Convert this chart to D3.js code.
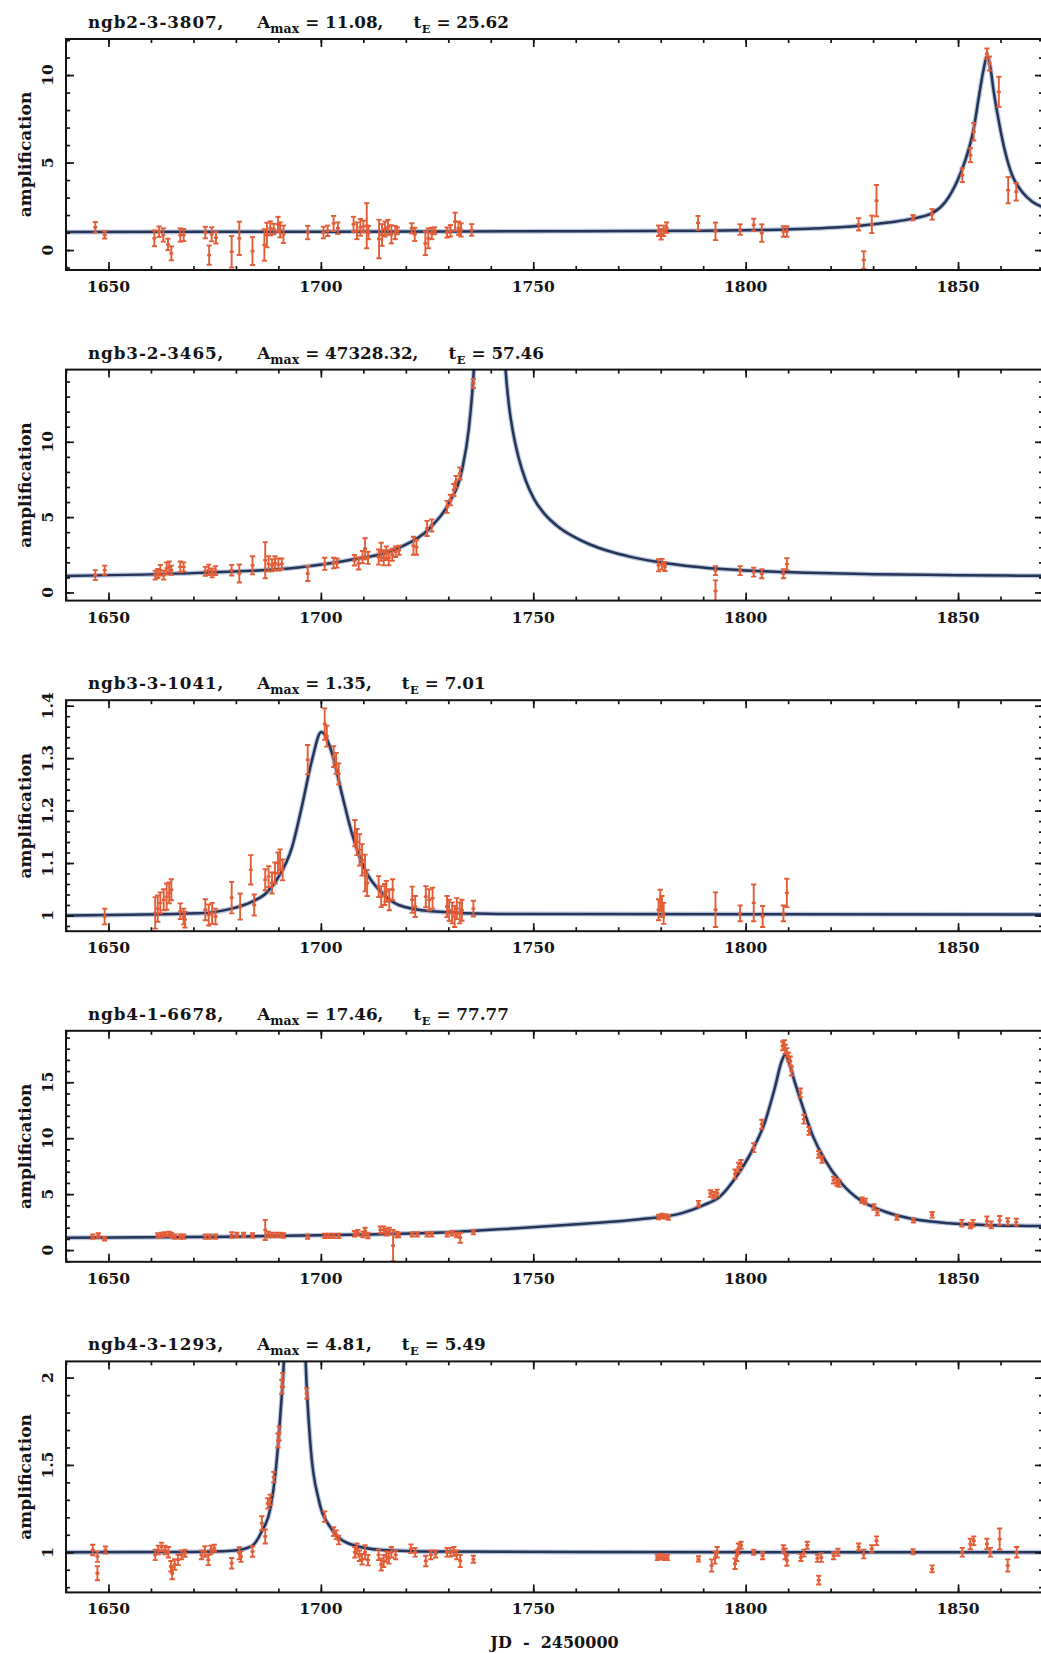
<!DOCTYPE html>
<html>
<head>
<meta charset="utf-8">
<script src="https://cdn.jsdelivr.net/npm/d3@7"></script>
<style>
  body { margin: 0; background: #fff; }
  svg text { font-family: "DejaVu Serif", serif; font-weight: bold; fill: #141414; }
</style>
</head>
<body>
<svg id="fig" width="1041" height="1653"></svg>
<script>
// ---- light-curve data: [JD - 2450000, amplification, error] ----
const xTickLabels = [1650, 1700, 1750, 1800, 1850];
const starNames = ["ngb2-3-3807", "ngb3-2-3465", "ngb3-3-1041", "ngb4-1-6678", "ngb4-3-1293"];
const aMaxLabels = ["11.08", "47328.32", "1.35", "17.46", "4.81"];
const tELabels = ["25.62", "57.46", "7.01", "77.77", "5.49"];
const yLimits = [[-1.14, 12.06], [-0.54, 14.79], [0.97, 1.4105], [-1.05, 19.6], [0.77, 2.093]];
const yTickLabels = [[0, 5, 10], [0, 5, 10], [1, 1.1, 1.2, 1.3, 1.4], [0, 5, 10, 15], [1, 1.5, 2]];
const yMinorStep = [1, 1, 0.02, 1, 0.1];

const obs1 = [
  [1646.9,1.3,0.3],[1649.1,0.86,0.2],
  [1660.8,0.67,0.45],[1661.9,1.05,0.3],[1662.9,0.86,0.38],[1664.0,0.32,0.33],[1664.8,-0.19,0.4],[1666.9,0.86,0.38],[1667.7,0.86,0.35],
  [1672.8,1.0,0.33],[1673.7,-0.29,0.55],[1674.3,0.9,0.4],[1675.3,0.7,0.33],
  [1679.0,-0.1,0.9],[1680.8,0.67,0.95],[1683.9,-0.06,0.8],
  [1686.7,0.29,0.9],[1687.3,0.86,0.7],[1688.1,1.24,0.4],[1688.9,1.2,0.3],[1689.9,1.47,0.43],[1690.4,1.15,0.43],[1691.2,0.9,0.5],
  [1696.9,1.0,0.38],[1700.6,1.0,0.33],[1701.6,1.1,0.3],[1703.0,1.52,0.43],[1704.0,1.25,0.33],
  [1707.7,1.47,0.43],[1708.5,1.1,0.48],[1709.3,1.3,0.48],[1710.0,1.35,0.33],[1710.8,1.39,1.29],[1711.2,1.0,0.38],
  [1713.7,0.63,1.1],[1714.4,0.86,0.62],[1715.1,1.2,0.43],[1715.8,1.3,0.43],[1716.6,0.9,0.52],[1717.5,1.0,0.38],[1718.0,1.1,0.2],
  [1721.4,1.24,0.29],[1722.1,0.9,0.38],[1724.6,0.38,0.67],[1725.3,0.67,0.57],[1726.1,0.95,0.33],[1726.8,1.1,0.2],
  [1729.7,1.0,0.29],[1730.5,1.1,0.33],[1731.6,1.62,0.52],[1732.4,1.25,0.38],[1733.0,1.15,0.38],[1735.5,1.15,0.33],
  [1779.5,1.1,0.3],[1780.1,0.9,0.3],[1780.7,1.1,0.3],[1781.4,1.28,0.3],
  [1788.8,1.55,0.4],[1792.9,1.07,0.5],[1798.7,1.17,0.3],[1801.9,1.44,0.35],[1803.8,0.97,0.5],[1808.9,1.06,0.3],[1809.7,1.06,0.3],
  [1826.6,1.47,0.35],[1827.8,-0.57,0.5],[1829.7,1.47,0.5],[1830.8,2.82,0.9],[1839.4,1.85,0.15],[1843.9,2.04,0.3],
  [1851.0,4.28,0.4],[1852.9,5.42,0.4],[1853.7,6.76,0.5],[1856.8,11.22,0.3],[1857.4,10.66,0.4],[1859.6,9.04,0.86],[1861.8,3.42,0.75],[1863.7,3.33,0.5]
];
const model1 = [
  [1640,1.03],[1700,1.05],[1760,1.08],[1790,1.1],[1805,1.15],[1815,1.22],[1822,1.3],[1828,1.42],[1831,1.5],[1835,1.62],
  [1839,1.78],[1844,2.12],[1847,2.75],[1850,4.05],[1852,5.35],[1853.7,6.95],[1854.8,8.6],[1856,10.3],[1856.8,11.08],
  [1857.6,10.45],[1858.4,9.05],[1859.6,7.35],[1861.1,5.6],[1862.7,4.3],[1865,3.35],[1867.4,2.78],[1870,2.45]
];

const obs2 = [
  [1646.9,1.15,0.33],[1649.1,1.48,0.3],
  [1661.0,1.15,0.3],[1661.6,1.26,0.3],[1662.2,1.48,0.35],[1663.0,1.15,0.3],[1663.7,1.6,0.4],[1664.3,1.7,0.35],[1664.8,1.48,0.3],
  [1666.9,1.7,0.35],[1667.7,1.7,0.3],
  [1672.8,1.4,0.3],[1673.6,1.5,0.35],[1674.4,1.3,0.3],[1675.2,1.45,0.3],
  [1679.0,1.48,0.35],[1680.8,1.26,0.6],[1683.9,1.8,0.6],
  [1686.9,2.14,1.2],[1687.7,1.9,0.5],[1688.5,1.8,0.4],[1689.2,1.95,0.45],[1690.0,1.85,0.4],[1690.8,1.9,0.35],
  [1696.9,1.26,0.5],[1700.9,1.9,0.4],[1703.0,1.95,0.35],[1703.8,1.95,0.3],
  [1707.9,2.14,0.35],[1708.9,1.92,0.4],[1709.8,2.35,0.4],[1710.4,2.9,0.7],[1711.1,2.3,0.4],
  [1713.6,2.35,0.5],[1714.2,2.7,0.6],[1714.8,2.3,0.5],[1715.4,2.6,0.45],[1716.0,2.3,0.5],[1716.8,2.5,0.4],[1717.6,2.7,0.35],[1718.4,2.8,0.3],
  [1721.8,3.1,0.6],[1722.5,3.0,0.5],[1725.0,4.25,0.5],[1726.1,4.45,0.4],
  [1729.7,5.68,0.4],[1730.5,6.13,0.35],[1731.3,6.8,0.4],[1731.8,7.34,0.4],[1732.7,7.9,0.4],[1735.9,13.87,0.3],
  [1779.5,1.8,0.4],[1780.3,1.88,0.35],[1781.0,1.72,0.3],
  [1792.9,1.45,0.3],[1792.9,0.1,0.7],[1798.7,1.45,0.3],[1801.9,1.35,0.3],[1803.8,1.24,0.3],[1808.9,1.24,0.3],[1809.7,1.88,0.4]
];
const model2 = [
  [1640,1.1],[1671.2,1.3],[1694.7,1.66],[1706.5,2.14],[1718.3,2.95],[1726.1,4.4],[1730.1,5.9],[1733.2,8.1],[1734.8,10.8],
  [1735.9,14.3],[1737.2,22],[1738.6,55],[1739.7,47328.32],[1740.8,55],[1742.2,22],[1743.5,14.7],[1744.2,12.6],
  [1745.2,10.7],[1746.5,9.0],[1748.2,7.45],[1750.2,6.2],[1752.7,5.2],[1755.7,4.4],[1759.2,3.75],[1763.2,3.2],
  [1767.7,2.75],[1772.7,2.38],[1778.7,2.05],[1785.7,1.78],[1793.7,1.57],[1802.7,1.42],[1814.7,1.3],[1829.7,1.21],
  [1849.7,1.15],[1870,1.1]
];

const obs3 = [
  [1649.1,0.998,0.015],
  [1661.0,1.005,0.03],[1661.6,1.013,0.025],[1662.2,1.024,0.02],[1663.0,1.03,0.02],[1663.7,1.036,0.025],[1664.3,1.043,0.02],[1664.8,1.049,0.02],
  [1666.9,1.008,0.015],[1667.7,0.998,0.015],[1668.0,0.992,0.015],
  [1672.8,1.011,0.02],[1673.6,1.001,0.02],[1674.4,1.004,0.02],[1675.2,0.998,0.015],
  [1679.0,1.034,0.03],[1681.0,1.017,0.025],[1683.5,1.087,0.028],[1684.3,1.02,0.02],
  [1686.9,1.068,0.02],[1687.7,1.074,0.02],[1688.5,1.062,0.02],[1689.2,1.081,0.02],[1689.9,1.1,0.02],[1690.4,1.106,0.02],[1691.0,1.087,0.02],
  [1696.9,1.297,0.028],[1700.9,1.365,0.03],[1701.4,1.342,0.02],[1703.0,1.303,0.02],[1703.6,1.29,0.02],[1704.2,1.27,0.02],
  [1708.0,1.157,0.025],[1708.5,1.14,0.025],[1709.1,1.125,0.03],[1709.7,1.106,0.03],[1710.4,1.081,0.035],[1710.9,1.062,0.025],
  [1713.6,1.055,0.02],[1714.2,1.036,0.02],[1715.0,1.04,0.02],[1715.4,1.046,0.02],[1716.1,1.03,0.02],[1716.9,1.049,0.02],
  [1721.5,1.03,0.025],[1722.2,1.017,0.02],[1724.7,1.036,0.02],[1725.5,1.03,0.02],[1726.3,1.033,0.02],
  [1729.7,1.017,0.02],[1730.2,1.01,0.02],[1730.9,1.005,0.02],[1731.5,0.998,0.02],[1732.0,1.013,0.02],[1732.7,1.005,0.02],[1733.2,1.01,0.02],[1735.9,1.013,0.015],
  [1779.5,1.011,0.02],[1779.9,1.029,0.02],[1780.3,1.017,0.02],[1780.7,1.004,0.02],
  [1792.9,1.011,0.033],[1798.7,1.004,0.015],[1801.9,1.024,0.035],[1804.0,0.998,0.02],[1808.9,1.004,0.015],[1809.7,1.043,0.027]
];
const model3 = [
  [1640,1.0],[1671.2,1.004],[1679,1.013],[1683.7,1.026],[1686.9,1.041],[1690,1.073],[1693.2,1.13],[1695.5,1.207],
  [1697.9,1.296],[1700.1,1.35],[1702.6,1.31],[1705,1.23],[1707.3,1.157],[1710.4,1.087],[1714.4,1.043],[1718.3,1.02],
  [1726.1,1.008],[1741.8,1.003],[1870,1.002]
];

const obs4 = [
  [1646.3,1.2,0.2],[1647.6,1.3,0.2],[1649.1,1.0,0.15],
  [1661.6,1.3,0.2],[1662.5,1.35,0.2],[1663.3,1.4,0.2],[1664.3,1.45,0.2],[1664.8,1.35,0.2],[1665.6,1.2,0.2],
  [1666.9,1.2,0.2],[1667.7,1.2,0.2],
  [1672.8,1.2,0.2],[1673.9,1.2,0.2],[1675.2,1.2,0.2],
  [1679.0,1.35,0.25],[1680.2,1.35,0.2],[1681.8,1.35,0.2],[1683.9,1.3,0.2],
  [1686.9,1.8,0.9],[1687.6,1.4,0.25],[1688.5,1.35,0.2],[1689.6,1.35,0.2],[1690.6,1.35,0.2],[1691.2,1.3,0.2],
  [1696.9,1.2,0.2],[1700.9,1.27,0.2],[1701.9,1.27,0.2],[1703.0,1.27,0.2],[1704.2,1.27,0.2],
  [1707.9,1.45,0.25],[1708.7,1.55,0.25],[1709.9,1.4,0.25],[1710.4,1.7,0.3],[1711.1,1.3,0.25],
  [1714.0,1.8,0.3],[1714.8,1.8,0.3],[1715.4,1.6,0.3],[1716.1,1.7,0.3],[1717.0,0.4,1.4],[1717.9,1.4,0.25],[1718.3,1.35,0.2],
  [1721.5,1.4,0.2],[1722.7,1.4,0.2],[1725.0,1.4,0.2],[1726.1,1.4,0.2],
  [1729.7,1.4,0.2],[1730.9,1.5,0.2],[1732.0,1.35,0.2],[1732.8,1.1,0.45],[1735.9,1.6,0.2],
  [1779.5,2.95,0.2],[1780.3,3.05,0.2],[1781.1,3.0,0.2],[1781.8,2.9,0.2],
  [1788.9,4.15,0.25],[1791.7,5.05,0.3],[1792.5,4.9,0.3],[1793.3,5.1,0.3],
  [1797.5,6.8,0.4],[1798.3,7.4,0.4],[1798.9,7.7,0.35],[1801.9,9.15,0.4],[1803.8,11.25,0.4],
  [1808.7,18.25,0.4],[1809.1,18.35,0.4],[1809.3,17.95,0.4],[1809.7,17.65,0.4],[1810.1,17.25,0.4],[1810.5,16.9,0.4],[1810.8,16.0,0.4],
  [1812.9,14.05,0.4],[1813.7,11.7,0.4],[1814.9,10.65,0.35],[1817.2,8.55,0.3],[1818.0,8.1,0.3],
  [1820.7,6.25,0.3],[1821.5,6.05,0.3],[1822.0,5.95,0.3],
  [1827.4,4.45,0.25],[1828.2,4.35,0.25],[1830.2,3.85,0.25],[1831.0,3.35,0.25],[1835.6,2.9,0.2],[1839.5,2.65,0.2],[1843.9,3.15,0.25],
  [1850.9,2.4,0.3],[1852.9,2.2,0.25],[1853.5,2.4,0.3],[1856.8,2.6,0.4],[1857.8,2.25,0.3],[1859.8,2.65,0.4],[1861.7,2.55,0.3],[1863.7,2.5,0.3]
];
const model4 = [
  [1640,1.1],[1680,1.2],[1710,1.38],[1730,1.6],[1746,1.95],[1762,2.35],[1775,2.75],[1785,3.3],[1790,4.0],[1794,4.8],
  [1797.5,6.4],[1801.4,8.8],[1804.5,11.4],[1806.8,14.4],[1808.5,16.9],[1809.3,17.46],[1810.2,16.8],[1811.5,15.1],
  [1813.1,13.2],[1815.5,10.5],[1818.6,8.1],[1822.5,6.0],[1827.2,4.4],[1832.7,3.45],[1840.5,2.7],[1848,2.4],[1856,2.25],[1870,2.15]
];

const obs5 = [
  [1646.3,1.013,0.03],[1647.4,0.975,0.03],[1647.4,0.88,0.04],[1649.3,1.013,0.02],
  [1661.0,0.985,0.03],[1661.7,1.013,0.025],[1662.5,1.03,0.025],[1663.3,1.013,0.025],[1664.1,1.0,0.03],[1664.7,0.92,0.03],
  [1665.0,0.88,0.035],[1665.6,0.93,0.03],[1666.4,0.956,0.03],[1667.2,0.985,0.025],[1668.0,0.994,0.02],
  [1671.9,0.985,0.025],[1672.7,1.004,0.03],[1673.5,0.956,0.03],[1674.1,1.013,0.025],[1674.9,1.023,0.02],
  [1679.0,0.937,0.03],[1680.8,0.994,0.035],[1681.2,0.975,0.03],[1683.9,1.004,0.03],
  [1686.1,1.166,0.04],[1686.9,1.09,0.04],[1687.5,1.28,0.03],[1688.1,1.3,0.03],[1688.9,1.43,0.03],[1689.9,1.64,0.04],
  [1690.2,1.68,0.04],[1690.8,1.948,0.04],[1691.0,1.986,0.04],
  [1696.7,1.91,0.03],[1700.9,1.204,0.03],[1703.0,1.118,0.025],[1703.6,1.1,0.025],[1704.2,1.07,0.025],
  [1708.0,1.0,0.03],[1708.5,1.02,0.03],[1709.1,0.98,0.03],[1709.7,0.96,0.03],[1710.4,1.0,0.04],[1711.1,0.955,0.03],
  [1713.6,0.985,0.03],[1714.2,0.93,0.035],[1714.8,0.95,0.035],[1715.4,0.975,0.03],[1716.0,0.965,0.03],[1716.6,1.0,0.03],[1717.6,0.985,0.025],
  [1721.2,1.02,0.025],[1722.2,1.0,0.025],[1724.7,0.95,0.03],[1725.9,0.985,0.025],[1727.0,0.99,0.02],
  [1729.7,1.0,0.025],[1730.5,1.0,0.025],[1731.3,1.005,0.025],[1732.0,0.985,0.025],[1732.8,0.95,0.035],[1735.9,0.96,0.02],
  [1779.2,0.97,0.015],[1780.0,0.975,0.015],[1780.8,0.97,0.015],[1781.6,0.97,0.015],
  [1788.9,0.962,0.015],[1792.0,0.924,0.035],[1792.8,0.97,0.035],[1793.3,1.0,0.03],
  [1797.5,0.934,0.03],[1797.9,0.98,0.03],[1798.3,1.02,0.03],[1798.9,1.04,0.02],[1801.9,1.0,0.015],[1804.0,0.98,0.02],
  [1808.9,1.02,0.02],[1809.3,0.99,0.03],[1809.7,0.953,0.03],
  [1813.0,0.97,0.02],[1813.7,0.995,0.02],[1814.5,1.04,0.02],[1816.9,0.965,0.02],[1817.2,0.84,0.025],[1817.8,0.97,0.025],
  [1820.7,0.98,0.02],[1821.7,1.0,0.02],[1826.6,1.03,0.02],[1827.8,0.99,0.025],[1829.7,1.02,0.02],[1830.8,1.066,0.025],
  [1839.4,1.003,0.015],[1843.9,0.905,0.02],[1851.0,1.0,0.025],[1852.9,1.047,0.03],[1853.7,1.066,0.025],
  [1856.8,1.047,0.03],[1857.6,1.0,0.025],[1859.8,1.076,0.06],[1861.7,0.924,0.035],[1863.8,1.0,0.03]
];
const model5 = [
  [1640,1.0],[1670,1.002],[1679,1.008],[1683.7,1.035],[1686.1,1.12],[1688.1,1.25],[1689.3,1.45],[1690.5,1.8],[1691.3,2.1],
  [1692.5,3.1],[1693.9,4.81],[1695.3,3.1],[1696.4,2.1],[1697.6,1.6],[1699.5,1.3],[1702.6,1.13],[1706.5,1.05],
  [1714.4,1.013],[1726,1.004],[1760,1.001],[1870,1.0]
];

const observations = [obs1, obs2, obs3, obs4, obs5];
const models = [model1, model2, model3, model4, model5];

// ---- layout ----
const svg = d3.select("#fig");
const plotLeft = 66, plotRight = 1043;
const panelTop0 = 39, panelStep = 330.6, panelHeight = 231;
const errColor = "#e25d36";

const x = d3.scaleLinear().domain([1640, 1870]).range([plotLeft, plotRight]);
const xMinor = d3.range(1640, 1871, 10);

function stepTicks(lo, hi, step) {
  const a = Math.ceil(lo / step - 1e-9), b = Math.floor(hi / step + 1e-9);
  return d3.range(a, b + 1).map(k => +(k * step).toFixed(4));
}

function inwardAxis(g, axisFn, scale, values, len) {
  g.call(axisFn(scale).tickValues(values).tickSizeInner(-len).tickSizeOuter(0).tickFormat(""))
   .call(s => s.select(".domain").remove())
   .call(s => s.selectAll(".tick line").attr("stroke", "#141414").attr("stroke-width", 1.7));
}

observations.forEach((obs, i) => {
  const top = panelTop0 + i * panelStep;
  const bottom = top + panelHeight;
  const y = d3.scaleLinear().domain(yLimits[i]).range([bottom, top]);
  const g = svg.append("g");

  const clipId = "clip" + i;
  svg.append("clipPath").attr("id", clipId)
    .append("rect").attr("x", plotLeft).attr("y", top)
    .attr("width", plotRight - plotLeft).attr("height", panelHeight);

  const inner = g.append("g").attr("clip-path", `url(#${clipId})`);

  // model light curve: soft blue halo under a dark navy core
  const line = d3.line().x(d => x(d[0])).y(d => y(d[1])).curve(d3.curveMonotoneX);
  inner.append("path").datum(models[i]).attr("d", line)
    .attr("fill", "none").attr("stroke", "#7d97c4").attr("stroke-width", 4.8).attr("stroke-opacity", 0.55);
  inner.append("path").datum(models[i]).attr("d", line)
    .attr("fill", "none").attr("stroke", "#263457").attr("stroke-width", 2.5);

  // photometric points with error bars
  const bars = inner.append("g").attr("stroke", errColor).attr("stroke-width", 1.9);
  obs.forEach(([t, a, e]) => {
    const cx = x(t), y0 = y(a - e), y1 = y(a + e), yc = y(a);
    bars.append("line").attr("x1", cx).attr("x2", cx).attr("y1", y0).attr("y2", y1);
    bars.append("line").attr("x1", cx - 2.6).attr("x2", cx + 2.6).attr("y1", y0).attr("y2", y0);
    bars.append("line").attr("x1", cx - 2.6).attr("x2", cx + 2.6).attr("y1", y1).attr("y2", y1);
    bars.append("line").attr("x1", cx - 2).attr("x2", cx + 2).attr("y1", yc).attr("y2", yc).attr("stroke-width", 2.4);
  });

  // inward ticks on all four sides
  const yMajorVals = yTickLabels[i];
  const yMinorVals = stepTicks(yLimits[i][0], yLimits[i][1], yMinorStep[i]);
  inwardAxis(g.append("g").attr("transform", `translate(0,${bottom})`), d3.axisBottom, x, xMinor, 4);
  inwardAxis(g.append("g").attr("transform", `translate(0,${bottom})`), d3.axisBottom, x, xTickLabels, 8);
  inwardAxis(g.append("g").attr("transform", `translate(0,${top})`), d3.axisTop, x, xMinor, 4);
  inwardAxis(g.append("g").attr("transform", `translate(0,${top})`), d3.axisTop, x, xTickLabels, 8);
  inwardAxis(g.append("g").attr("transform", `translate(${plotLeft},0)`), d3.axisLeft, y, yMinorVals, 4);
  inwardAxis(g.append("g").attr("transform", `translate(${plotLeft},0)`), d3.axisLeft, y, yMajorVals, 8);
  inwardAxis(g.append("g").attr("transform", `translate(${plotRight},0)`), d3.axisRight, y, yMinorVals, 4);
  inwardAxis(g.append("g").attr("transform", `translate(${plotRight},0)`), d3.axisRight, y, yMajorVals, 8);

  // frame
  g.append("rect").attr("x", plotLeft).attr("y", top)
    .attr("width", plotRight - plotLeft).attr("height", panelHeight)
    .attr("fill", "none").attr("stroke", "#141414").attr("stroke-width", 2);

  // x tick labels
  g.selectAll(".xl").data(xTickLabels).enter().append("text")
    .attr("x", d => x(d)).attr("y", bottom + 22)
    .attr("text-anchor", "middle").attr("font-size", 15.5).text(d => d);

  // y tick labels, written vertically
  g.selectAll(".yl").data(yMajorVals).enter().append("text")
    .attr("transform", d => `translate(53,${y(d)}) rotate(-90)`)
    .attr("text-anchor", "middle").attr("font-size", 15.5).text(d => String(d));

  // y axis title
  g.append("text")
    .attr("transform", `translate(31,${(top + bottom) / 2}) rotate(-90)`)
    .attr("text-anchor", "middle").attr("font-size", 17).text("amplification");

  // panel title: star id, peak amplification and Einstein time
  const title = g.append("text").attr("x", 88).attr("y", top - 11).attr("font-size", 16.8);
  title.append("tspan").attr("letter-spacing", 0.9).text(starNames[i] + ",");
  title.append("tspan").attr("dx", 33).text("A");
  title.append("tspan").attr("dx", 0).attr("dy", 5).attr("font-size", 12.5).text("max");
  title.append("tspan").attr("dx", 6).attr("dy", -5).text("= " + aMaxLabels[i] + ",");
  title.append("tspan").attr("dx", 30).text("t");
  title.append("tspan").attr("dx", 0.5).attr("dy", 5).attr("font-size", 11.5).text("E");
  title.append("tspan").attr("dx", 6).attr("dy", -5).text("= " + tELabels[i]);
});

// shared x axis title
const xt = svg.append("text").attr("x", (plotLeft + plotRight) / 2).attr("y", 1648)
  .attr("text-anchor", "middle").attr("font-size", 16);
xt.append("tspan").text("JD");
xt.append("tspan").attr("dx", 11).text("-");
xt.append("tspan").attr("dx", 11).text("2450000");
</script>
</body>
</html>
